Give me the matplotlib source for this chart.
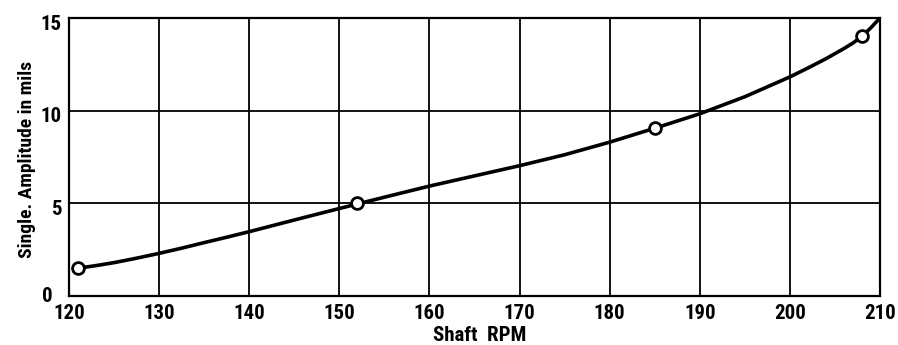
import matplotlib
matplotlib.use("Agg")
import matplotlib.pyplot as plt
from matplotlib import font_manager
from matplotlib.transforms import ScaledTranslation

# Measured test points
test_rpm = [121, 152, 185, 208]
test_amp = [1.5, 5.0, 9.05, 14.0]

# Faired curve through the data
curve_rpm = [121, 123, 125, 127.5, 130, 132.5, 135, 137.5, 140, 145, 150, 155,
             160, 165, 170, 175, 180, 185, 190, 195, 200, 202, 204, 206, 207,
             208, 209, 210]
curve_amp = [1.5, 1.64, 1.8, 2.04, 2.3, 2.58, 2.88, 3.17, 3.47, 4.1, 4.72,
             5.33, 5.93, 6.48, 7.03, 7.62, 8.3, 9.05, 9.83, 10.75, 11.82,
             12.3, 12.8, 13.35, 13.65, 14.0, 14.48, 15.0]

x_ticks = [120, 130, 140, 150, 160, 170, 180, 190, 200, 210]
y_ticks = [0, 5, 10, 15]

names = {f.name for f in font_manager.fontManager.ttflist}
label_font = next((n for n in ['Roboto Condensed', 'Liberation Sans Narrow',
                               'Roboto'] if n in names), 'DejaVu Sans')
plt.rcParams['font.family'] = [label_font, 'DejaVu Sans']

fig = plt.figure(figsize=(8.98, 3.45), dpi=100)
ax = fig.add_axes([0.0768, 0.142, 0.9032, 0.806])

ax.plot(curve_rpm, curve_amp, color='black', lw=2.6, solid_capstyle='round',
        solid_joinstyle='round', zorder=3)
ax.plot(test_rpm, test_amp, 'o', ms=8.5, mfc='white', mec='black', mew=2,
        zorder=4)

ax.set_xlim(120, 210)
ax.set_ylim(0, 15)
ax.set_xticks(x_ticks)
ax.set_yticks(y_ticks)
ax.grid(True, color='black', lw=1.3)
ax.tick_params(length=0, labelsize=15)
ax.tick_params(axis='x', pad=6)
ax.tick_params(axis='y', pad=5)
for lab in ax.get_xticklabels() + ax.get_yticklabels():
    lab.set_fontweight('bold')

# y labels sit slightly below their grid lines; the zero is set further left
ylabels = ax.get_yticklabels()
for lab in ylabels:
    lab.set_transform(lab.get_transform() +
                      ScaledTranslation(0, -3 / 72, fig.dpi_scale_trans))
ylabels[0].set_transform(ylabels[0].get_transform() +
                         ScaledTranslation(-7 / 72, 4 / 72, fig.dpi_scale_trans))

for s in ax.spines.values():
    s.set_linewidth(1.6)

ax.set_xlabel('Shaft  RPM', fontsize=15, fontweight='bold')
ax.xaxis.set_label_coords(0.506, -0.108)
ax.set_ylabel('Single. Amplitude in mils', fontsize=14, fontweight='bold')
ax.yaxis.set_label_coords(-0.041, 0.49)

fig.savefig('out.png', dpi=100, facecolor='white')
